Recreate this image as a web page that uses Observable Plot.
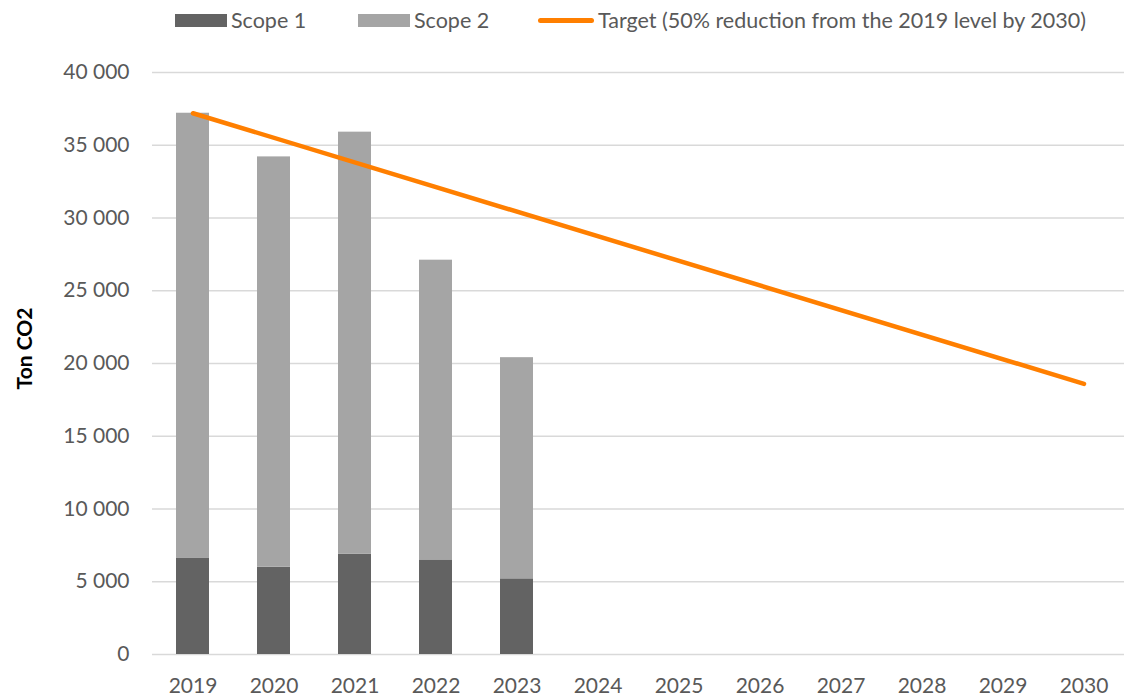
<!DOCTYPE html>
<html>
<head>
<meta charset="utf-8">
<script src="https://cdn.jsdelivr.net/npm/d3@7"></script>
<script src="https://cdn.jsdelivr.net/npm/@observablehq/plot@0.6"></script>
<style>
  html, body { margin: 0; padding: 0; background: #fff; overflow: hidden; }
  body { width: 1124px; height: 696px; position: relative; font-family: Lato, "Open Sans", sans-serif; color: #595959; }
  #legend { position: absolute; left: 0; top: 0; width: 1124px; height: 40px; }
  .sw { position: absolute; top: 14px; height: 13px; width: 52px; }
  .ln { position: absolute; top: 18px; height: 5px; width: 56px; border-radius: 3px; }
  .lt { position: absolute; top: 8px; font-size: 21.5px; line-height: 24px; white-space: nowrap; }
  #chart { position: absolute; left: 0; top: 40px; }
</style>
</head>
<body>
<div id="legend"></div>
<div id="chart"></div>
<script>
const years = ["2019","2020","2021","2022","2023","2024","2025","2026","2027","2028","2029","2030"];
const barYears = ["2019","2020","2021","2022","2023"];
const scope1 = [6600, 6000, 6900, 6500, 5200];
const scope2 = [30600, 28200, 29000, 20600, 15200];
const targetYears = ["2019", "2030"];
const targetValues = [37200, 18600];
const yTicks = [0, 5000, 10000, 15000, 20000, 25000, 30000, 35000, 40000];
const seriesNames = ["Scope 1", "Scope 2"];
const seriesColors = ["#636363", "#a5a5a5"];
const targetName = "Target (50% reduction from the 2019 level by 2030)";
const targetColor = "#ff7f00";
const yLabel = "Ton CO2";

const bars = [];
barYears.forEach((y, i) => {
  bars.push({year: y, series: seriesNames[0], value: scope1[i]});
  bars.push({year: y, series: seriesNames[1], value: scope2[i]});
});
const target = targetYears.map((y, i) => ({year: y, value: targetValues[i]}));

const fmt = d3.formatLocale({decimal: ".", thousands: " ", grouping: [3], currency: ["", ""]}).format(",");

const chart = Plot.plot({
  width: 1124,
  height: 656,
  marginLeft: 152,
  marginRight: 0,
  marginTop: 32,
  marginBottom: 42,
  style: {fontFamily: "Lato, 'Open Sans', sans-serif", fontSize: "21px", color: "#595959", background: "transparent"},
  x: {type: "band", domain: years, padding: 0},
  y: {domain: [0, 40000]},
  color: {domain: seriesNames, range: seriesColors},
  marks: [
    Plot.ruleY(yTicks, {stroke: "#d9d9d9", strokeWidth: 1.5}),
    Plot.barY(bars, {x: "year", y: "value", fill: "series", insetLeft: 24, insetRight: 24}),
    Plot.line(target, {x: "year", y: "value", stroke: targetColor, strokeWidth: 4.5, strokeLinecap: "round"}),
    Plot.axisX({tickSize: 0, tickPadding: 24, label: null, fontSize: 21}),
    Plot.axisY({ticks: yTicks, tickSize: 0, tickPadding: 23, tickFormat: fmt, label: null, fontSize: 21}),
    Plot.text([yLabel], {text: d => d, frameAnchor: "left", textAnchor: "middle", rotate: -90, dx: -127, dy: -15, fontWeight: "bold", fontSize: 21, fill: "#000"})
  ]
});
document.getElementById("chart").appendChild(chart);

// Legend
const legend = document.getElementById("legend");
const items = [
  {kind: "sw", color: seriesColors[0], x: 175, tx: 231, text: seriesNames[0]},
  {kind: "sw", color: seriesColors[1], x: 358, tx: 414, text: seriesNames[1]},
  {kind: "ln", color: targetColor, x: 538, tx: 598, text: targetName}
];
items.forEach(it => {
  const s = document.createElement("div");
  s.className = it.kind;
  s.style.left = it.x + "px";
  s.style.background = it.color;
  legend.appendChild(s);
  const t = document.createElement("div");
  t.className = "lt";
  t.style.left = it.tx + "px";
  t.textContent = it.text;
  legend.appendChild(t);
});
</script>
</body>
</html>
